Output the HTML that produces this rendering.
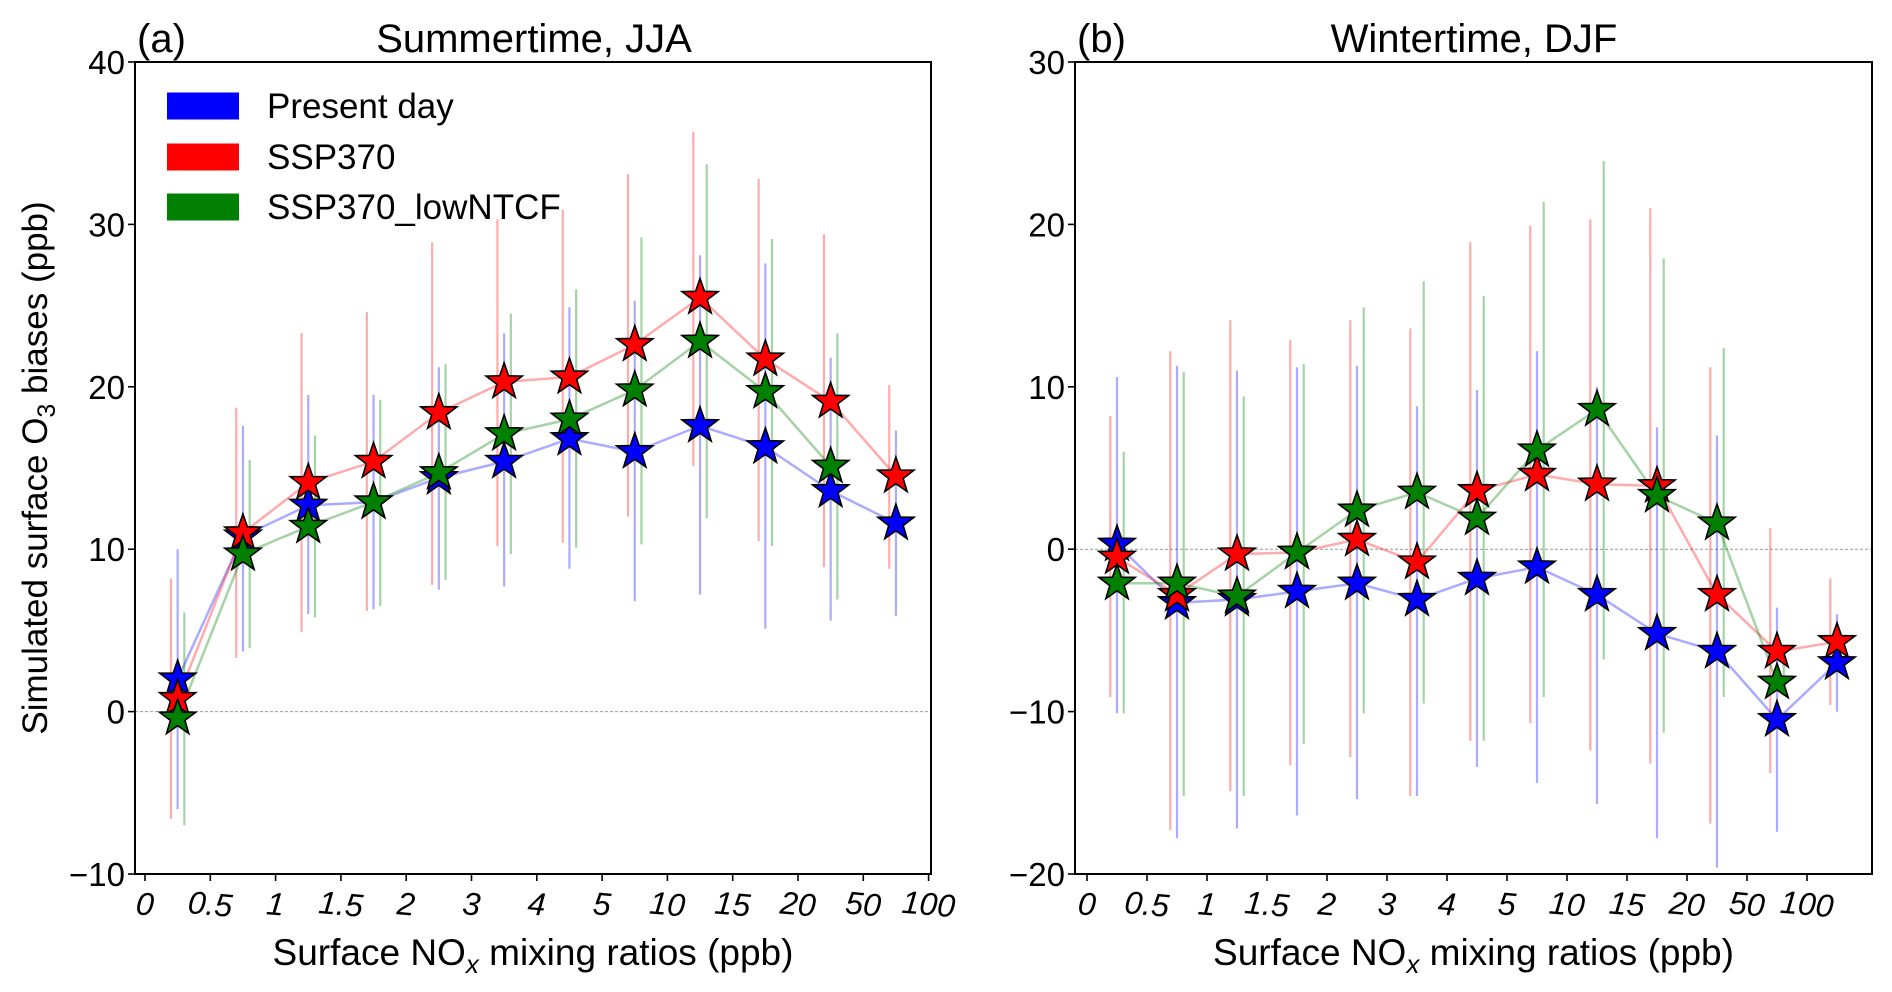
<!DOCTYPE html>
<html><head><meta charset="utf-8"><style>
html,body{margin:0;padding:0;background:#fff;}
svg{display:block;font-family:"Liberation Sans",Arial,sans-serif;}
</style></head><body>
<svg id="chart" width="1892" height="992" viewBox="0 0 1892 992">
<g id="panelA"></g>
<g id="panelB"></g>
</svg>
<script>
const xTickLabels = ["0","0.5","1","1.5","2","3","4","5","10","15","20","50","100"];
const seriesNames = ["Present day","SSP370","SSP370_lowNTCF"];
const summerBlue = [2.0,10.8,12.7,12.9,14.4,15.4,16.8,16.0,17.6,16.3,13.6,11.6];
const summerRed = [0.8,11.0,14.1,15.4,18.4,20.3,20.6,22.6,25.5,21.7,19.1,14.5];
const summerGreen = [-0.4,9.7,11.4,12.9,14.7,17.1,18.0,19.8,22.8,19.7,15.1];
const summerBlueLo = [-6.0,3.7,6.0,6.3,7.5,7.7,8.8,6.8,7.2,5.1,5.6,5.9];
const summerBlueHi = [10.0,17.6,19.5,19.5,21.2,23.3,24.9,25.3,28.1,27.6,21.8,17.3];
const summerRedLo = [-6.6,3.3,4.9,6.2,7.8,10.2,10.4,12.0,15.1,10.5,8.9,8.8];
const summerRedHi = [8.2,18.7,23.3,24.6,28.9,30.3,30.9,33.1,35.7,32.8,29.4,20.1];
const summerGreenLo = [-7.0,3.9,5.8,6.5,8.1,9.7,10.1,10.3,11.9,10.2,6.9];
const summerGreenHi = [6.1,15.5,17.0,19.2,21.4,24.5,26.0,29.2,33.7,29.1,23.3];
const winterBlue = [0.3,-3.3,-3.1,-2.6,-2.1,-3.1,-1.8,-1.1,-2.8,-5.2,-6.3,-10.5,-7.0];
const winterRed = [-0.5,-2.8,-0.3,-0.2,0.6,-0.8,3.6,4.6,4.0,3.9,-2.8,-6.3,-5.7];
const winterGreen = [-2.1,-2.1,-2.9,-0.2,2.4,3.5,1.9,6.1,8.6,3.3,1.6,-8.2];
const winterBlueLo = [-10.1,-17.8,-17.2,-16.4,-15.4,-15.2,-13.4,-14.4,-15.7,-17.8,-19.6,-17.4,-10.0];
const winterBlueHi = [10.6,11.3,11.0,11.2,11.3,8.8,9.8,12.2,10.0,7.5,7.0,-3.6,-4.0];
const winterRedLo = [-9.1,-17.3,-14.9,-13.3,-12.8,-15.2,-11.8,-10.7,-12.4,-13.2,-16.9,-13.8,-9.6];
const winterRedHi = [8.2,12.2,14.1,12.9,14.1,13.6,18.9,19.9,20.3,21.0,11.2,1.3,-1.8];
const winterGreenLo = [-10.1,-15.2,-15.2,-12.0,-10.1,-9.5,-11.8,-9.1,-6.8,-11.3,-9.1,-9.0];
const winterGreenHi = [6.0,10.9,9.4,11.4,14.9,16.5,15.6,21.4,23.9,17.9,12.4,-7.0];
const summerYTicks = [-10,0,10,20,30,40];
const winterYTicks = [-20,-10,0,10,20,30];

const NS="http://www.w3.org/2000/svg";
function mk(parent,tag,attrs,text){const e=document.createElementNS(NS,tag);for(const k in attrs)e.setAttribute(k,attrs[k]);if(text!==undefined)e.textContent=text;parent.appendChild(e);return e;}
function starPts(cx,cy,R){const r=R*0.4;let p=[];for(let i=0;i<10;i++){const a=-Math.PI/2+i*Math.PI/5;const rr=i%2?r:R;p.push((cx+rr*Math.cos(a)).toFixed(1)+","+(cy+rr*Math.sin(a)).toFixed(1));}return p.join(" ");}

function drawPanel(g,cfg){
  const {L,R,T,B,x0,dx,ymin,ymax,yticks,title,tag,series,showYLabel,showLegend}=cfg;
  const X=i=>x0+dx*i, Y=v=>B-(v-ymin)/(ymax-ymin)*(B-T);
  let z=mk(g,'line',{x1:L,x2:R,y1:Y(0),y2:Y(0),stroke:'#999','stroke-width':1,'stroke-dasharray':'3,2'});
  
  const offs=[0,-6.7,6.7];
  series.forEach((s,si)=>{s.lo.forEach((lo,i)=>{const x=X(i+0.5)+offs[si];
    const e=mk(g,'line',{x1:x,x2:x,y1:Y(lo),y2:Y(s.hi[i]),stroke:s.light,'stroke-width':2.2});
    
    });});
  series.forEach(s=>{const pts=s.v.map((v,i)=>X(i+0.5)+","+Y(v)).join(" ");
    const l=mk(g,'polyline',{points:pts,fill:'none',stroke:s.light,'stroke-width':2.5});
    
    });
  [0,1,2].forEach(si=>{const s=series[si];s.v.forEach((v,i)=>{
    const st=mk(g,'polygon',{points:starPts(X(i+0.5),Y(v),19),fill:s.col,stroke:'#000','stroke-width':1.6,'stroke-linejoin':'miter'});
    
    });});
  const f=mk(g,'rect',{x:L,y:T,width:R-L,height:B-T,fill:'none',stroke:'#000','stroke-width':2});
  
  yticks.forEach(t=>{const y=Y(t);mk(g,'line',{x1:L-7,x2:L,y1:y,y2:y,stroke:'#000','stroke-width':1.6});
    const tx=mk(g,'text',{x:L-10,y:y+12,'text-anchor':'end','font-size':33},(t<0?'\u2212'+(-t):t));
    });
  xTickLabels.forEach((lab,i)=>{const x=X(i);mk(g,'line',{x1:x,x2:x,y1:B,y2:B+7,stroke:'#000','stroke-width':1.6});
    const tx=mk(g,'text',{x:x,y:915,'text-anchor':'middle','font-size':32,'font-style':'italic',transform:`rotate(5 ${x} 903)`},lab);
    });
  const tt=mk(g,'text',{x:cfg.titleX,y:52,'text-anchor':'middle','font-size':40},title);
  
  const tg=mk(g,'text',{x:L+2,y:52,'font-size':40},tag);
  
  const xl=mk(g,'text',{x:(L+R)/2,y:965,'text-anchor':'middle','font-size':37});
  xl.innerHTML='Surface NO<tspan font-style="italic" font-size="26" dy="8">x</tspan><tspan dy="-8"> mixing ratios (ppb)</tspan>';
  
  if(showYLabel){const yl=mk(g,'text',{x:0,y:0,'text-anchor':'middle','font-size':35,transform:`translate(47 ${(T+B)/2}) rotate(-90)`});
    yl.innerHTML='Simulated surface O<tspan font-size="25" dy="8">3</tspan><tspan dy="-8"> biases (ppb)</tspan>';
    }
  if(showLegend){const lg=mk(g,'g',{});
    const ly=[106,157,207];
    series.forEach((s,i)=>{const r=mk(lg,'rect',{x:167,y:ly[i]-13.5,width:72,height:27,fill:s.col});
      
      const t=mk(lg,'text',{x:267,y:ly[i]+12,'font-size':35},seriesNames[i]);
      });}
}
drawPanel(document.getElementById('panelA'),{L:135,R:931,T:62,B:874,x0:145,dx:65.3,ymin:-10,ymax:40,yticks:summerYTicks,
  title:'Summertime, JJA',tag:'(a)',titleX:534,showYLabel:true,showLegend:true,
  series:[{key:'present-day',v:summerBlue,lo:summerBlueLo,hi:summerBlueHi,col:'#0000ff',light:'rgba(0,0,255,0.33)'},
          {key:'ssp370',v:summerRed,lo:summerRedLo,hi:summerRedHi,col:'#ff0000',light:'rgba(255,0,0,0.33)'},
          {key:'ssp370-lowntcf',v:summerGreen,lo:summerGreenLo,hi:summerGreenHi,col:'#008000',light:'rgba(0,128,0,0.35)'}]});
drawPanel(document.getElementById('panelB'),{L:1075,R:1872,T:62,B:874,x0:1087,dx:60,ymin:-20,ymax:30,yticks:winterYTicks,
  title:'Wintertime, DJF',tag:'(b)',titleX:1474,showYLabel:false,showLegend:false,
  series:[{key:'present-day',v:winterBlue,lo:winterBlueLo,hi:winterBlueHi,col:'#0000ff',light:'rgba(0,0,255,0.33)'},
          {key:'ssp370',v:winterRed,lo:winterRedLo,hi:winterRedHi,col:'#ff0000',light:'rgba(255,0,0,0.33)'},
          {key:'ssp370-lowntcf',v:winterGreen,lo:winterGreenLo,hi:winterGreenHi,col:'#008000',light:'rgba(0,128,0,0.35)'}]});
</script>
</body></html>
